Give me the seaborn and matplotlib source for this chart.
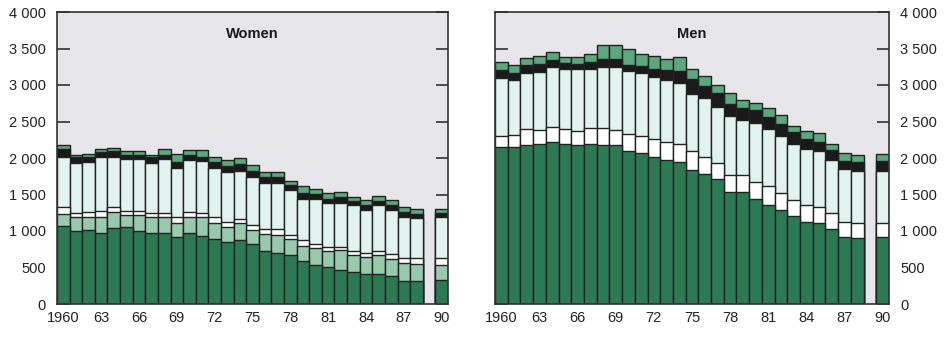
import numpy as np
import pandas as pd
import matplotlib
matplotlib.use("Agg")
import matplotlib.pyplot as plt
import seaborn as sns

# Years shown (1989 slot is left empty)
years = list(range(1960, 1989)) + [1990]
slots = list(range(1960, 1991))
tick_years = [1960, 1963, 1966, 1969, 1972, 1975, 1978, 1981, 1984, 1987, 1990]
tick_text = ["1960", "63", "66", "69", "72", "75", "78", "81", "84", "87", "90"]

# Women, in thousands, stacked from the bottom up
women_l1 = [1070, 1005, 1015, 975, 1035, 1050, 1005, 970, 970, 915, 970, 935, 885, 855, 875,
            820, 730, 705, 670, 595, 535, 510, 465, 445, 410, 410, 385, 320, 320, 330]
women_l2 = [165, 180, 175, 210, 230, 170, 215, 225, 225, 200, 225, 250, 230, 205, 230,
            200, 230, 240, 215, 200, 230, 220, 275, 225, 230, 260, 230, 245, 230, 205]
women_l3 = [100, 55, 65, 90, 60, 60, 60, 55, 55, 75, 70, 55, 75, 70, 55,
            60, 65, 80, 60, 80, 60, 55, 45, 60, 55, 60, 70, 60, 75, 90]
women_l4 = [675, 685, 685, 740, 695, 710, 705, 675, 730, 670, 710, 720, 670, 685, 665,
            665, 630, 630, 615, 570, 610, 595, 600, 625, 595, 625, 605, 570, 550, 560]
women_l5 = [110, 85, 75, 70, 70, 55, 60, 85, 60, 90, 70, 55, 80, 80, 90,
            80, 80, 80, 70, 80, 75, 55, 75, 60, 70, 60, 70, 70, 60, 55]
women_l6 = [60, 30, 45, 45, 45, 45, 45, 30, 85, 105, 70, 90, 80, 75, 80,
            75, 80, 80, 60, 85, 65, 80, 80, 55, 60, 65, 70, 60, 65, 55]

# Men, in thousands, stacked from the bottom up
men_l1 = [2145, 2155, 2180, 2190, 2225, 2190, 2180, 2190, 2180, 2180, 2100, 2075, 2020, 1975, 1950,
          1840, 1780, 1710, 1540, 1540, 1435, 1355, 1290, 1205, 1130, 1105, 1025, 920, 900, 920]
men_l3 = [150, 160, 215, 190, 205, 205, 195, 215, 230, 205, 230, 230, 235, 250, 240,
          260, 240, 220, 230, 230, 240, 255, 235, 220, 225, 230, 220, 210, 205, 185]
men_l4 = [800, 755, 775, 800, 810, 830, 840, 810, 835, 860, 855, 860, 860, 845, 840,
          775, 800, 765, 810, 745, 800, 785, 775, 765, 765, 765, 730, 715, 720, 720]
men_l5 = [115, 100, 105, 105, 100, 80, 70, 95, 110, 110, 90, 100, 100, 130, 165,
          205, 170, 200, 165, 170, 185, 165, 165, 170, 135, 125, 130, 120, 125, 135]
men_l6 = [105, 105, 90, 110, 115, 80, 105, 115, 195, 195, 215, 165, 185, 155, 190,
          135, 135, 105, 145, 115, 100, 125, 125, 80, 120, 115, 90, 110, 90, 90]

C_DARK = "#2c7a53"
C_SOFT = "#98c9ac"
C_WHITE = "#ffffff"
C_MINT = "#e0f3ef"
C_BLACK = "#1a1a1a"
C_TOP = "#5aa87b"
EDGE = "#222222"
PANEL_BG = "#e6e6ea"


def draw_panel(ax, layers, colors, title, labels_right):
    cum = np.cumsum(np.array(layers, dtype=float), axis=0)
    # paint cumulative totals from the tallest down so each band shows
    for k in range(len(layers) - 1, -1, -1):
        df = pd.DataFrame({"year": years, "top": cum[k]})
        sns.barplot(data=df, x="year", y="top", order=slots, color=colors[k],
                    saturation=1, width=1.0, edgecolor=EDGE, linewidth=1.0,
                    errorbar=None, ax=ax, zorder=2)
    ax.set_facecolor(PANEL_BG)
    ax.set_xlim(-0.5, len(slots) - 0.5)
    ax.set_ylim(0, 4000)
    ax.set_xlabel("")
    ax.set_ylabel("")
    ax.set_xticks([slots.index(y) for y in tick_years])
    ax.set_xticklabels(tick_text)
    yt = list(range(0, 4001, 500))
    ax.set_yticks(yt)
    ax.set_yticklabels([f"{v:,}".replace(",", " ") for v in yt])
    ax.tick_params(axis="x", length=0, pad=5, labelsize=10.5, colors="#222222")
    ax.tick_params(axis="y", direction="in", length=9, width=1.2, color="#333333",
                   left=True, right=True, labelleft=not labels_right,
                   labelright=labels_right, pad=8, labelsize=10.5, labelcolor="#222222")
    for s in ax.spines.values():
        s.set_visible(True)
        s.set_color("#333333")
        s.set_linewidth(1.2)
        s.set_zorder(5)
    ax.text(0.5, 0.925, title, transform=ax.transAxes, ha="center", va="center",
            fontsize=10.5, fontweight="heavy", color="#1a1a1a", zorder=6)


sns.set_theme(style="white")
plt.rcParams["font.family"] = ["Liberation Sans", "DejaVu Sans"]

fig = plt.figure(figsize=(9.52, 3.39), dpi=100)
fig.patch.set_facecolor("white")
ax_w = fig.add_axes([57 / 952, 35 / 339, 391 / 952, 292 / 339])
ax_m = fig.add_axes([495 / 952, 35 / 339, 394 / 952, 292 / 339])

draw_panel(ax_w, [women_l1, women_l2, women_l3, women_l4, women_l5, women_l6],
           [C_DARK, C_SOFT, C_WHITE, C_MINT, C_BLACK, C_TOP], "Women", False)
draw_panel(ax_m, [men_l1, men_l3, men_l4, men_l5, men_l6],
           [C_DARK, C_WHITE, C_MINT, C_BLACK, C_TOP], "Men", True)

fig.savefig("out.png", dpi=100, facecolor="white")
